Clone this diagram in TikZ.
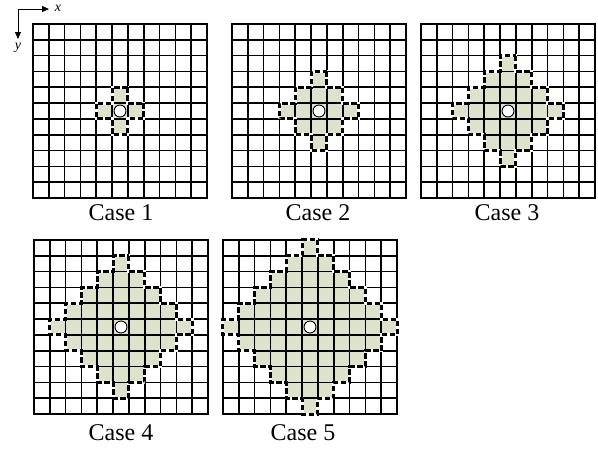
\documentclass[tikz,border=0pt]{standalone}
\usepackage{fontspec}
\setmainfont{Liberation Serif}
\usetikzlibrary{arrows.meta}
\definecolor{regfill}{RGB}{220,226,203}
\tikzset{
  gridline/.style={line width=1.7pt, black},
  boundbase/.style={line width=3pt, white, line join=miter},
  boundline/.style={line width=3pt, black, dash pattern=on 5.5pt off 2.5pt, line join=miter},
  centremark/.style={line width=0.9pt, black, fill=white},
  caselabel/.style={font=\fontsize{24}{26}\selectfont, anchor=base, inner sep=0pt},
  axislabel/.style={font=\fontsize{14}{16}\selectfont\itshape, inner sep=0pt},
  axisarrow/.style={line width=0.9pt, -{Triangle[length=7pt,width=6pt]}}
}
\newcommand\diampath[1]{(0.5,{#1+0.5})
  \foreach \i in {0,...,#1}{ -- ({\i+0.5},{#1-\i+0.5}) -- ({\i+0.5},{#1-\i-0.5}) }
  \foreach \i in {0,...,#1}{ -- ({#1-\i+0.5},{-\i-0.5}) -- ({#1-\i-0.5},{-\i-0.5}) }
  \foreach \i in {0,...,#1}{ -- ({-\i-0.5},{-#1+\i-0.5}) -- ({-\i-0.5},{-#1+\i+0.5}) }
  \foreach \i in {0,...,#1}{ -- ({-#1+\i-0.5},{\i+0.5}) -- ({-#1+\i+0.5},{\i+0.5}) }
  -- cycle}
\newcommand\gridcase[3]{%
  \begin{scope}[shift={(#1,#2)}, x=15.82pt, y=15.82pt]
    \fill[regfill] \diampath{#3};
    \foreach \g in {0,...,11}{
      \draw[gridline] ({\g-5.5},-5.5) -- ({\g-5.5},5.5);
      \draw[gridline] (-5.5,{\g-5.5}) -- (5.5,{\g-5.5});
    }
    \draw[gridline] (-5.5,-5.5) rectangle (5.5,5.5);
    \draw[boundbase] \diampath{#3};
    \draw[boundline] \diampath{#3};
    \draw[centremark] (0,0) circle[radius=6pt];
  \end{scope}}
\begin{document}
\begin{tikzpicture}[x=1pt, y=-1pt]
  \useasboundingbox (0,0) rectangle (598,448);
  \fill[white] (0,0) rectangle (598,448);
  % axes
  \coordinate (o) at (18,9);
  \coordinate (xe) at (49,9);
  \coordinate (ye) at (18,39);
  \draw[axisarrow] (o) -- (xe);
  \draw[axisarrow] (o) -- (ye);
  \node[axislabel] (xl) at (58,8) {x};
  \node[axislabel] (yl) at (18,48) {y};
  % grids
  \gridcase{120}{111}{1}
  \gridcase{319}{111}{2}
  \gridcase{508}{111}{3}
  \gridcase{121}{327}{4}
  \gridcase{310}{327}{5}
  % labels
  \node[caselabel] (c1) at (121,220) {Case 1};
  \node[caselabel] (c2) at (318,220) {Case 2};
  \node[caselabel] (c3) at (507,220) {Case 3};
  \node[caselabel] (c4) at (121,440) {Case 4};
  \node[caselabel] (c5) at (303,440) {Case 5};
\end{tikzpicture}
\end{document}
